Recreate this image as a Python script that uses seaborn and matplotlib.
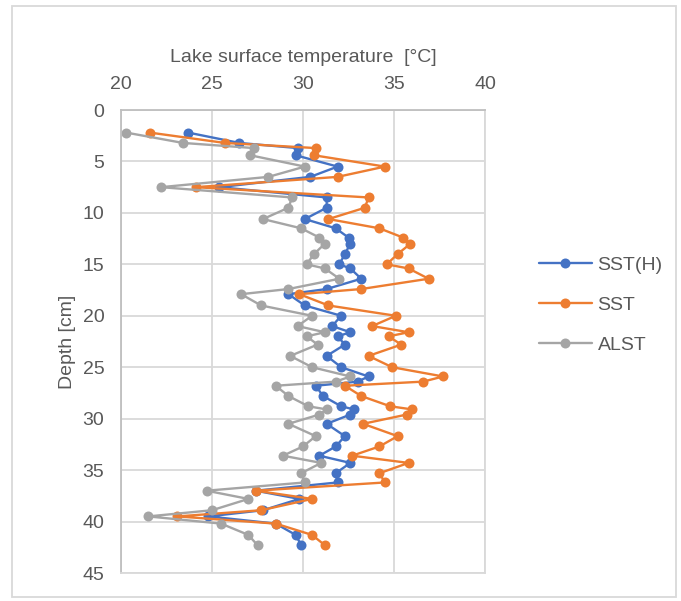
import matplotlib
matplotlib.use("Agg")
import matplotlib.pyplot as plt
import seaborn as sns
import pandas as pd
from matplotlib.patches import Rectangle

depth = [2.2, 3.2, 3.7, 4.4, 5.5, 6.5, 7.5, 8.5, 9.5, 10.6, 11.5, 12.4, 13.0, 14.0,
         15.0, 15.4, 16.4, 17.4, 17.9, 19.0, 20.0, 21.0, 21.6, 22.0, 22.8, 23.9,
         25.0, 25.9, 26.4, 26.8, 27.8, 28.8, 29.1, 29.6, 30.5, 31.7, 32.7, 33.6,
         34.3, 35.3, 36.2, 37.0, 37.8, 38.9, 39.5, 40.2, 41.3, 42.3]

sst_h = [23.7, 26.5, 29.7, 29.6, 31.9, 30.4, 25.4, 31.3, 31.3, 30.1, 31.8, 32.5,
         32.6, 32.3, 32.0, 32.6, 33.2, 31.3, 29.2, 30.1, 32.1, 31.6, 32.6, 31.9,
         32.3, 31.3, 32.1, 33.6, 33.0, 30.7, 31.1, 32.1, 32.8, 32.6, 31.3, 32.3,
         31.8, 30.9, 32.6, 31.8, 31.9, 27.4, 29.8, 27.8, 24.8, 28.5, 29.6, 29.9]

sst = [21.6, 25.7, 30.7, 30.6, 34.5, 31.9, 24.1, 33.6, 33.4, 31.4, 34.2, 35.5,
       35.9, 35.2, 34.6, 35.8, 36.9, 33.2, 29.8, 31.4, 35.1, 33.8, 35.8, 34.7,
       35.4, 33.6, 34.9, 37.7, 36.6, 32.3, 33.2, 34.8, 36.0, 35.7, 33.3, 35.2,
       34.2, 32.7, 35.8, 34.2, 34.5, 27.4, 30.5, 27.7, 23.1, 28.5, 30.5, 31.2]

alst = [20.3, 23.4, 27.3, 27.1, 30.1, 28.1, 22.2, 29.4, 29.2, 27.8, 29.9, 30.9,
        31.2, 30.6, 30.2, 31.2, 32.0, 29.2, 26.6, 27.7, 30.5, 29.7, 31.2, 30.2,
        30.8, 29.3, 30.5, 32.6, 31.8, 28.5, 29.2, 30.3, 31.3, 30.9, 29.2, 30.7,
        30.0, 28.9, 31.0, 29.9, 30.1, 24.7, 27.0, 25.0, 21.5, 25.5, 27.0, 27.5]

series_names = ["SST(H)", "SST", "ALST"]
colors = ["#4472C4", "#ED7D31", "#A5A5A5"]
x_ticks = [20, 25, 30, 35, 40]
y_ticks = [0, 5, 10, 15, 20, 25, 30, 35, 40, 45]

rows = []
for name, vals in zip(series_names, [sst_h, sst, alst]):
    for i, (d, v) in enumerate(zip(depth, vals)):
        rows.append({"series": name, "depth": d, "temp": v, "order": i})
df = pd.DataFrame(rows)

sns.set_style("white")
plt.rcParams["font.family"] = ["Liberation Sans", "DejaVu Sans"]

fig = plt.figure(figsize=(6.81, 6.01), dpi=100)
ax = fig.add_axes([121/681, 1-573/601, (485-121)/681, (573-110)/601])

sns.lineplot(data=df, x="temp", y="depth", hue="series", hue_order=series_names,
             palette=colors, sort=False, estimator=None, orient="y",
             marker="o", markersize=7.2, markeredgewidth=0, linewidth=1.7, ax=ax)

ax.set_xlim(20, 40)
ax.set_ylim(45, 0)
ax.set_xticks(x_ticks)
ax.set_yticks(y_ticks)
ax.xaxis.tick_top()
ax.xaxis.set_label_position("top")
ax.tick_params(axis="both", length=0, labelsize=14, labelcolor="#595959", pad=12)
ax.set_xlabel("Lake surface temperature  [°C]", fontsize=14, color="#595959", labelpad=10)
ax.set_ylabel("Depth [cm]", fontsize=14, color="#595959", labelpad=5)
ax.grid(True, color="#D9D9D9", linewidth=1.3)
ax.set_axisbelow(True)
for side in ["right", "bottom"]:
    ax.spines[side].set_color("#D9D9D9")
    ax.spines[side].set_linewidth(1.3)
for side in ["top", "left"]:
    ax.spines[side].set_color("#BFBFBF")
    ax.spines[side].set_linewidth(1.3)

leg = ax.legend(loc="center left", bbox_to_anchor=(0.766, 1-305/601),
                bbox_transform=fig.transFigure, frameon=False, fontsize=14,
                handlelength=2.7, handletextpad=0.3, labelspacing=1.15)
for t in leg.get_texts():
    t.set_color("#595959")

fig.patches.append(Rectangle((12/681, 1-597/601), (676-12)/681, (597-6)/601,
                             transform=fig.transFigure, fill=False,
                             edgecolor="#D9D9D9", linewidth=1.3))

fig.savefig("out.png", dpi=100)
